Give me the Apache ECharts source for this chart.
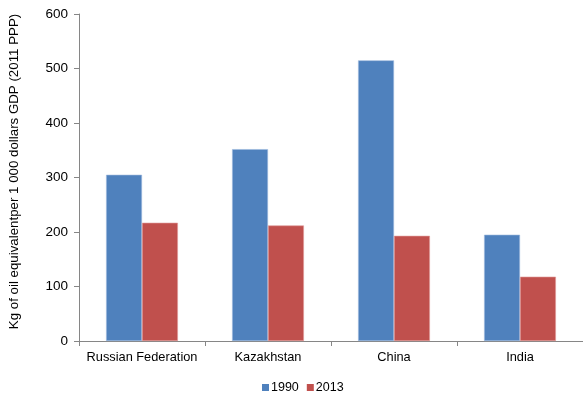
<!DOCTYPE html>
<html>
<head>
<meta charset="utf-8">
<script src="https://cdn.jsdelivr.net/npm/echarts@6/dist/echarts.min.js"></script>
<style>
  html, body { margin: 0; padding: 0; background: #fff; }
  #chart { width: 583px; height: 394px; }
</style>
</head>
<body>
<div id="chart"></div>
<script>
// Energy intensity by country
const categories = ['Russian Federation', 'Kazakhstan', 'China', 'India'];
const values1990 = [305, 352, 515, 195];
const values2013 = [217, 212, 193, 118];
const yTicks = [0, 100, 200, 300, 400, 500, 600];

const font = 'Liberation Sans, Arial, sans-serif';
const chart = echarts.init(document.getElementById('chart'), null, { renderer: 'canvas' });

chart.setOption({
  animation: false,
  backgroundColor: '#ffffff',
  grid: { left: 79, right: 0, top: 14, bottom: 53, containLabel: false, outerBoundsMode: 'none' },
  legend: {
    top: 381,
    left: 262,
    padding: 0,
    itemWidth: 7,
    itemHeight: 7,
    itemGap: 8,
    icon: 'rect',
    itemStyle: { borderWidth: 0 },
    textStyle: { fontFamily: font, fontSize: 12.5, color: '#000', padding: [0, 0, 0, -3] },
    data: ['1990', '2013']
  },
  xAxis: {
    type: 'category',
    data: categories,
    axisLine: { lineStyle: { color: '#868686' } },
    axisTick: { show: true, alignWithLabel: false, length: 5, lineStyle: { color: '#868686' } },
    axisLabel: { fontFamily: font, fontSize: 12.8, color: '#000', margin: 10, interval: 0 }
  },
  yAxis: {
    type: 'value',
    min: yTicks[0],
    max: yTicks[yTicks.length - 1],
    interval: 100,
    name: 'Kg of oil equivalentper 1 000 dollars GDP (2011 PPP)',
    nameLocation: 'middle',
    nameGap: 58,
    nameTextStyle: { fontFamily: font, fontSize: 13.3, color: '#000', padding: [0, 0, 0, 12] },
    axisLine: { show: true, lineStyle: { color: '#868686' } },
    axisTick: { show: true, length: 5, lineStyle: { color: '#868686' } },
    splitLine: { show: false },
    axisLabel: { fontFamily: font, fontSize: 13.5, color: '#000', margin: 11 }
  },
  series: [
    {
      name: '1990',
      type: 'bar',
      data: values1990,
      barGap: '0%',
      barCategoryGap: '43%',
      itemStyle: { color: '#4F81BD', borderColor: '#9DB9DE', borderWidth: 0.6 }
    },
    {
      name: '2013',
      type: 'bar',
      data: values2013,
      itemStyle: { color: '#C0504D', borderColor: '#E09C9A', borderWidth: 0.6 }
    }
  ]
});
</script>
</body>
</html>
